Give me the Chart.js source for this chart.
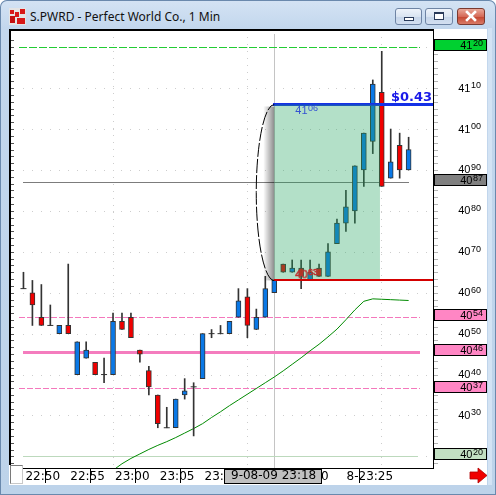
<!DOCTYPE html>
<html>
<head>
<meta charset="utf-8">
<script src="https://cdn.jsdelivr.net/npm/chart.js@4.4.0/dist/chart.umd.min.js"></script>
<style>
  html, body { margin: 0; padding: 0; background: #fff; }
  #win { position: absolute; left: 0; top: 0; width: 496px; height: 495px; overflow: hidden;
         background: linear-gradient(#d4e3f4 0, #c3d7ed 28px, #bdd3ea 100%);
         box-shadow: inset 0 0 0 1px #6a89ad; border-radius: 7px 7px 0 0; }
  #title { position: absolute; left: 30px; top: 8px; line-height: 16px; font: 12px "Noto Sans", sans-serif; color: #111; white-space: nowrap; }
  #icon { position: absolute; left: 9px; top: 8px; }
  .btn { position: absolute; top: 8px; height: 15px; border: 1px solid #6e84a4; border-radius: 3px;
         background: linear-gradient(#eef3fa, #d9e4f1 50%, #c5d5e9 51%, #d3dff0); }
  #bmin { left: 395px; width: 25px; }
  #bmax { left: 425px; width: 26px; }
  #bclose { left: 457px; width: 26px; border-color: #7b3a30;
            background: linear-gradient(#eaa898, #d56a58 50%, #c4452f 51%, #d97a66); }
  #bmin::after { content: ""; position: absolute; left: 8px; top: 8px; width: 8px; height: 2px; border: 1px solid #2a3b5a; background: #fff; }
  #bmax::after { content: ""; position: absolute; left: 8px; top: 3px; width: 8px; height: 5px; border: 1px solid #2a3b5a; border-top-width: 2px; background: #fff; }
  #rstrip { position: absolute; left: 488px; top: 28px; width: 4px; height: 457px; background: #d3e3f4; }
  #panel { position: absolute; left: 9px; top: 29px; width: 478px; height: 456px; background: #fff; }
  #corner { position: absolute; left: 10px; top: 465px; width: 11px; height: 17px; background: #fff; border: 1px solid #7a7a7a; border-right-color: #c8c8c8; border-bottom-color: #c8c8c8; }
  #arrow { position: absolute; left: 469px; top: 467px; }
</style>
</head>
<body>
<div id="win">
  <svg id="icon" width="17" height="17" viewBox="0 0 17 17">
    <rect x="0" y="0" width="17" height="17" fill="#e4e4e4"/>
    <rect x="1" y="2" width="4" height="4" fill="#d81818"/>
    <rect x="6" y="4" width="4" height="5" fill="#d81818"/>
    <rect x="11" y="1" width="5" height="5" fill="#d81818"/>
    <rect x="1" y="8" width="5" height="7" fill="#c41010"/>
    <rect x="8" y="10" width="8" height="6" fill="#d81818"/>
  </svg>
  <div id="title">S.PWRD - Perfect World Co., 1 Min</div>
  <div class="btn" id="bmin"></div>
  <div class="btn" id="bmax"></div>
  <div class="btn" id="bclose">
    <svg width="26" height="15" viewBox="0 0 26 15" style="position:absolute;left:0;top:0">
      <path d="M9 3 L17 11 M17 3 L9 11" stroke="#fff" stroke-width="2.6" stroke-linecap="square"/>
    </svg>
  </div>
  <div id="rstrip"></div>
  <div id="panel"><canvas id="chart" width="478" height="456"></canvas></div>
  <div id="corner"></div>
  <svg id="arrow" width="19" height="17" viewBox="0 0 19 17">
    <path d="M1 5 L9 5 L9 1 L18 8.5 L9 16 L9 12 L1 12 Z" fill="#f00000" stroke="#b00000" stroke-width="0.8"/>
  </svg>
</div>

<script>
// one-minute bars, 22:50 to 23:33
const times = ["22:50","22:51","22:52","22:53","22:54","22:55","22:56","22:57","22:58","22:59",
  "23:00","23:01","23:02","23:03","23:04","23:05","23:06","23:07","23:08","23:09",
  "23:10","23:11","23:12","23:13","23:14","23:15","23:16","23:17","23:18","23:19",
  "23:20","23:21","23:22","23:23","23:24","23:25","23:26","23:27","23:28","23:29",
  "23:30","23:31","23:32","23:33"];

const openP = [40.61,40.60,40.54,40.52,40.50,40.52,40.40,40.44,40.43,40.40,
  40.40,40.53,40.54,40.46,40.41,40.35,40.27,40.27,40.35,40.37,
  40.39,40.50,40.50,40.50,40.54,40.59,40.51,40.54,40.60,40.67,
  40.65,40.66,40.63,40.66,40.64,40.72,40.77,40.80,40.90,40.97,
  41.09,40.88,40.96,40.90];
const highP = [40.65,40.63,40.62,40.57,40.52,40.67,40.48,40.48,40.43,40.44,
  40.55,40.55,40.55,40.46,40.42,40.35,40.32,40.34,40.39,40.38,
  40.50,40.51,40.52,40.53,40.61,40.61,40.56,40.64,40.63,40.67,
  40.68,40.68,40.68,40.67,40.72,40.78,40.85,40.91,40.99,41.12,
  41.19,41.00,40.99,40.98];
const lowP = [40.61,40.52,40.52,40.52,40.50,40.50,40.40,40.44,40.40,40.38,
  40.40,40.51,40.49,40.43,40.35,40.27,40.27,40.27,40.34,40.25,
  40.39,40.49,40.50,40.50,40.54,40.49,40.51,40.54,40.60,40.65,
  40.65,40.61,40.63,40.64,40.64,40.72,40.75,40.77,40.86,40.94,
  40.86,40.88,40.88,40.90];
const closeP = [40.61,40.57,40.52,40.52,40.52,40.50,40.48,40.46,40.40,40.40,
  40.53,40.51,40.49,40.45,40.37,40.28,40.27,40.34,40.36,40.37,
  40.50,40.50,40.50,40.53,40.58,40.52,40.54,40.61,40.63,40.65,
  40.66,40.64,40.65,40.64,40.70,40.77,40.81,40.91,40.99,41.11,
  40.86,40.92,40.90,40.95];

// moving average (starts below the visible range)
const maValues = [null,null,null,null,null,null,null,null,null,null,
  40.166,40.182,40.195,40.206,40.217,40.227,40.236,40.246,40.257,40.268,
  40.280,40.295,40.309,40.324,40.338,40.352,40.366,40.380,40.394,40.409,
  40.425,40.441,40.458,40.474,40.492,40.511,40.534,40.558,40.579,40.585,
  40.584,40.583,40.582,40.581];

const xTickLabels = ["22:50","22:55","23:00","23:05","23:10","23:15","23:20","  8-23:25"];

// horizontal price levels and their axis tags
const levelValues = [41.20, 40.87, 40.54, 40.455, 40.365, 40.20];
const levelLabels = ["4120","4087","4054","4046","4037","4020"];

// drawn target box
const crossIndex = 28;
const crossLabel = "9-08-09 23:18";
const rectEndIndex = 39.8;
const targetHigh = 41.06;
const targetLow = 40.63;
const targetHighLabel = "4106";
const targetLowLabel = "4063";
const gainLabel = "$0.43";

const BLUE = "#0a78e6", RED = "#f00000", EDGE = "#333333";

const idx = times.map((t, i) => i);
const isDoji = idx.map(i => openP[i] === closeP[i]);
const wickData = idx.map(i => ({ x: i, y: [lowP[i], highP[i]] }));
const bodyData = idx.map(i => isDoji[i] ? { x: i, y: null } : { x: i, y: [openP[i], closeP[i]] });
const bodyColors = idx.map(i => closeP[i] > openP[i] ? BLUE : RED);
const dojiData = idx.filter(i => isDoji[i]).map(i => ({ x: i, y: openP[i] }));
const maData = idx.map(i => ({ x: i, y: maValues[i] }));

// level styles (by level index)
const levelStyle = [
  { color: "#22cc33", width: 1, dash: [8, 2], from: -0.5, to: 44.28 },
  { color: "#7c7c7c", width: 1, dash: [], from: 0, to: 43 },
  { color: "#f478bc", width: 1, dash: [6, 2], from: -0.5, to: 44.28 },
  { color: "#f47cbe", width: 3, dash: [], from: 0, to: 44.28 },
  { color: "#f478bc", width: 1, dash: [6, 2], from: -0.5, to: 44.28 },
  { color: "#bcd9bc", width: 1, dash: [], from: 0, to: 44 }
];
const boxColors = ["#00d030", "#808080", "#ff86c4", "#ff86c4", "#ff86c4", "#c2dfc2"];

function drawPrice(ctx, text, xRight, y, mainDy, supDy, color, hollow) {
  const main = text.slice(0, 2), sup = text.slice(2);
  ctx.textAlign = "right";
  ctx.textBaseline = "alphabetic";
  ctx.font = '9px "Liberation Sans"';
  const ws = ctx.measureText(sup).width;
  if (hollow) { ctx.strokeStyle = color; ctx.lineWidth = 0.7; ctx.strokeText(sup, xRight, y + supDy); }
  else { ctx.fillStyle = color; ctx.fillText(sup, xRight, y + supDy); }
  ctx.font = '11px "Liberation Sans"';
  if (hollow) ctx.strokeText(main, xRight - ws - 0.5, y + mainDy);
  else ctx.fillText(main, xRight - ws - 0.5, y + mainDy);
}
function priceWidth(ctx, text) {
  ctx.font = '9px "Liberation Sans"';
  const ws = ctx.measureText(text.slice(2)).width;
  ctx.font = '11px "Liberation Sans"';
  return ws + 0.5 + ctx.measureText(text.slice(0, 2)).width;
}
// crisp horizontal line made of filled runs
function runLine(ctx, x0, x1, y, w, dash) {
  const top = Math.round(y - w / 2);
  x0 = Math.round(x0); x1 = Math.round(x1);
  if (!dash.length) { ctx.fillRect(x0, top, x1 - x0, w); return; }
  for (let px = x0; px < x1; px += dash[0] + dash[1]) ctx.fillRect(px, top, Math.min(dash[0], x1 - px), w);
}

const deco = {
  id: "deco",
  beforeDatasetsDraw(chart) {
    const { ctx, chartArea: a, scales: { x, y } } = chart;
    ctx.save();
    ctx.beginPath(); ctx.rect(a.left, a.top, a.right - a.left, a.bottom - a.top); ctx.clip();

    // dotted price grid
    ctx.fillStyle = "#cdcdcd";
    y.ticks.forEach(t => {
      const py = Math.round(y.getPixelForValue(t.value));
      for (let i = 0; i <= 45; i++) ctx.fillRect(Math.floor(x.getPixelForValue(i)), py, 1, 1);
    });
    // dotted time grid every 15 minutes
    times.forEach((t, i) => {
      if (+t.slice(3) % 15 !== 0) return;
      const px = Math.floor(x.getPixelForValue(i));
      for (let py = a.top + 3; py < a.bottom; py += 7) ctx.fillRect(px, py, 1, 1);
    });

    // crosshair
    const cx = Math.floor(x.getPixelForValue(crossIndex));
    ctx.fillStyle = "#c4c4c4";
    ctx.fillRect(cx, a.top, 1, a.bottom - a.top);

    // price levels
    levelValues.forEach((v, k) => {
      const s = levelStyle[k];
      ctx.fillStyle = s.color;
      runLine(ctx, x.getPixelForValue(s.from), x.getPixelForValue(s.to), y.getPixelForValue(v), s.width, s.dash);
    });
    ctx.restore();
  },
  afterDatasetsDraw(chart) {
    const { ctx, chartArea: a, scales: { x, y } } = chart;
    const x0 = x.getPixelForValue(crossIndex), x1 = x.getPixelForValue(rectEndIndex);
    const yh = y.getPixelForValue(targetHigh), yl = y.getPixelForValue(targetLow);
    ctx.save();
    ctx.beginPath(); ctx.rect(a.left, a.top, a.right - a.left, a.bottom - a.top); ctx.clip();

    ctx.fillStyle = "#1430e6";
    runLine(ctx, x0 - 1, a.right, yh, 3, []);

    const g = ctx.createLinearGradient(x0 - 11, 0, x0, 0);
    g.addColorStop(0, "rgba(0,0,0,0)");
    g.addColorStop(1, "rgba(0,0,0,0.45)");
    ctx.fillStyle = g;
    ctx.fillRect(x0 - 11, yh + 2, 11, yl - yh - 2);
    ctx.fillStyle = "rgba(38,166,98,0.35)";
    ctx.fillRect(x0, yh, x1 - x0, yl - yh);

    ctx.fillStyle = "#d40000";
    runLine(ctx, x0, a.right, yl, 2, []);

    ctx.strokeStyle = "#000"; ctx.lineWidth = 1; ctx.setLineDash([14, 2]);
    ctx.beginPath();
    ctx.ellipse(x0, (yh + yl) / 2, 18, (yl - yh) / 2, 0, Math.PI / 2, Math.PI * 1.5);
    ctx.stroke();
    ctx.setLineDash([]);

    const tx = x0 + 21;
    drawPrice(ctx, targetHighLabel, tx + priceWidth(ctx, targetHighLabel), yh, 10, 7, "#3452d2", false);
    drawPrice(ctx, targetLowLabel, tx + priceWidth(ctx, targetLowLabel), yl, -2, -5, "#c03030", true);

    ctx.font = 'bold 13px "DejaVu Sans"';
    ctx.fillStyle = "#1a1ae8"; ctx.textAlign = "right"; ctx.textBaseline = "alphabetic";
    ctx.fillText(gainLabel, a.right - 1, yh - 3);
    ctx.restore();
  },
  afterDraw(chart) {
    const { ctx, chartArea: a, scales: { x, y } } = chart;
    ctx.save();
    // frame of the price pane
    ctx.fillStyle = "#000";
    ctx.fillRect(0, 0, 2, 436);
    ctx.fillRect(0, 0, a.right, 2);
    ctx.fillRect(a.right, 0, 1, a.bottom);

    // minor ticks, three per 0.05
    const step = 0.05 / 3;
    for (let v = 41.15 + 6 * step; v > y.min; v -= step) {
      if (v > y.max) continue;
      const py = Math.round(y.getPixelForValue(v));
      ctx.fillStyle = "#555";
      ctx.fillRect(2, py, 3, 1);
      ctx.fillStyle = "#b4b4b4";
      ctx.fillRect(a.right + 1, py, 4, 1);
    }

    // price labels
    y.ticks.forEach(t => {
      const text = String(Math.round(t.value * 100));
      drawPrice(ctx, text, 472, y.getPixelForValue(t.value), 3.5, 0, "#000", false);
    });

    // level tags
    levelValues.forEach((v, k) => {
      const py = Math.round(y.getPixelForValue(v));
      ctx.fillStyle = boxColors[k];
      ctx.fillRect(a.right + 1, py - 7, 52, 10);
      ctx.strokeStyle = "#000"; ctx.lineWidth = 1;
      ctx.strokeRect(a.right + 1.5, py - 7.5, 52, 11);
      drawPrice(ctx, levelLabels[k], 474, py, 2, -1, "#000", false);
    });

    // crosshair time tag
    const cx = Math.floor(x.getPixelForValue(crossIndex)) + 0.5;
    const bx = Math.round(cx - 50.5);
    ctx.fillStyle = "#c0c0c0";
    ctx.fillRect(bx, a.bottom + 1, 98, 14);
    ctx.strokeStyle = "#000";
    ctx.strokeRect(bx + 0.5, a.bottom + 1.5, 97, 14);
    ctx.fillStyle = "#000";
    ctx.font = '12px "DejaVu Sans"';
    ctx.textAlign = "left"; ctx.textBaseline = "top";
    ctx.fillText(crossLabel, bx + 7, a.bottom + 2);
    ctx.restore();
  }
};

Chart.defaults.font.family = '"DejaVu Sans"';

new Chart(document.getElementById("chart"), {
  type: "bar",
  data: {
    datasets: [
      { type: "line", data: maData, borderColor: "#008a00", borderWidth: 1, pointRadius: 0, tension: 0, order: 4 },
      { data: wickData, backgroundColor: EDGE, borderWidth: 0, barThickness: 1, grouped: false, order: 3 },
      { data: bodyData, backgroundColor: bodyColors, borderColor: EDGE, borderWidth: 1, borderSkipped: false,
        barThickness: 5, grouped: false, order: 2 },
      { type: "line", data: dojiData, showLine: false, pointStyle: "line", pointRadius: 3,
        borderColor: EDGE, borderWidth: 1, order: 1 }
    ]
  },
  options: {
    responsive: false,
    devicePixelRatio: 1,
    animation: false,
    events: [],
    layout: { padding: { left: 3, top: 2, right: 0, bottom: 0 } },
    plugins: { legend: { display: false }, tooltip: { enabled: false } },
    scales: {
      x: {
        type: "linear",
        position: "bottom",
        min: -1.0556,
        max: 45.722,
        offset: false,
        afterFit(scale) { scale.height = 17; },
        afterBuildTicks(scale) { scale.ticks = scale.ticks.filter(t => t.value >= 0 && t.value <= 35); },
        ticks: {
          stepSize: 5,
          includeBounds: false,
          autoSkip: false,
          maxRotation: 0,
          align: "start",
          labelOffset: 2,
          padding: -13,
          color: "#000",
          font: { family: '"DejaVu Sans"', size: 12 },
          callback: v => xTickLabels[v / 5]
        },
        grid: { drawOnChartArea: false, drawTicks: true, tickLength: 15, color: "#000" },
        border: { display: true, color: "#000", width: 1 }
      },
      y: {
        type: "linear",
        position: "right",
        min: 40.1716,
        max: 41.2323,
        afterFit(scale) { scale.width = 54; },
        ticks: { display: false, stepSize: 0.1, includeBounds: false },
        grid: { display: false },
        border: { display: false }
      }
    }
  },
  plugins: [deco]
});
</script>
</body>
</html>
